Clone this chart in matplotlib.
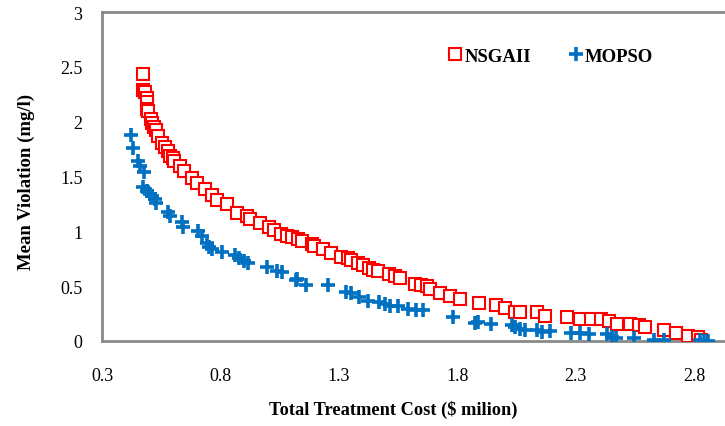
import matplotlib
matplotlib.use("Agg")
import matplotlib.pyplot as plt

# NSGAII front (cost in $ million, mean violation mg/l)
nsga_x = [0.474, 0.474, 0.481, 0.488, 0.492, 0.492, 0.496, 0.507, 0.512, 0.521,
          0.530, 0.538, 0.552, 0.566, 0.580, 0.587, 0.601, 0.606, 0.630, 0.648,
          0.679, 0.700, 0.733, 0.764, 0.785, 0.828, 0.870, 0.912, 0.923, 0.969,
          1.005, 1.026, 1.054, 1.082, 1.103, 1.129, 1.146, 1.186, 1.196, 1.231,
          1.266, 1.309, 1.337, 1.351, 1.379, 1.401, 1.426, 1.443, 1.464, 1.511,
          1.539, 1.559, 1.620, 1.648, 1.670, 1.684, 1.726, 1.769, 1.811, 1.893,
          1.964, 2.002, 2.045, 2.066, 2.137, 2.172, 2.264, 2.317, 2.363, 2.408,
          2.440, 2.476, 2.530, 2.568, 2.592, 2.671, 2.724, 2.773, 2.816, 2.830]
nsga_y = [2.434, 2.29, 2.27, 2.22, 2.18, 2.12, 2.10, 2.02, 1.99, 1.95,
          1.92, 1.87, 1.81, 1.77, 1.73, 1.69, 1.67, 1.64, 1.60, 1.55,
          1.49, 1.44, 1.39, 1.33, 1.29, 1.25, 1.17, 1.14, 1.11, 1.08,
          1.04, 1.01, 0.98, 0.96, 0.95, 0.93, 0.914, 0.884, 0.869, 0.839,
          0.802, 0.763, 0.754, 0.741, 0.711, 0.693, 0.663, 0.650, 0.641, 0.611,
          0.595, 0.572, 0.520, 0.510, 0.499, 0.474, 0.438, 0.413, 0.383, 0.346,
          0.328, 0.298, 0.267, 0.267, 0.261, 0.231, 0.216, 0.201, 0.201, 0.201,
          0.185, 0.155, 0.155, 0.146, 0.125, 0.103, 0.073, 0.043, 0.034, 0.012]

# MOPSO front
mopso_x = [0.422, 0.432, 0.450, 0.460, 0.478, 0.474, 0.488, 0.502, 0.512, 0.524,
           0.530, 0.580, 0.587, 0.637, 0.640, 0.705, 0.722, 0.743, 0.750, 0.764,
           0.806, 0.863, 0.877, 0.898, 0.917, 0.997, 1.040, 1.058, 1.120, 1.125,
           1.163, 1.256, 1.330, 1.351, 1.387, 1.422, 1.471, 1.493, 1.514, 1.549,
           1.592, 1.627, 1.653, 1.780, 1.875, 1.889, 1.941, 2.030, 2.044, 2.066,
           2.087, 2.137, 2.158, 2.190, 2.278, 2.317, 2.356, 2.431, 2.451, 2.469,
           2.544, 2.629, 2.671, 2.823, 2.841, 2.858]
mopso_y = [1.878, 1.757, 1.644, 1.593, 1.543, 1.401, 1.370, 1.340, 1.319, 1.294,
           1.258, 1.173, 1.142, 1.082, 1.036, 1.006, 0.954, 0.893, 0.854, 0.839,
           0.808, 0.784, 0.754, 0.732, 0.711, 0.672, 0.641, 0.626, 0.559, 0.565,
           0.510, 0.510, 0.444, 0.438, 0.398, 0.367, 0.358, 0.337, 0.316, 0.316,
           0.292, 0.285, 0.285, 0.216, 0.164, 0.170, 0.155, 0.146, 0.125, 0.109,
           0.103, 0.103, 0.085, 0.094, 0.073, 0.073, 0.064, 0.064, 0.034, 0.025,
           0.025, 0.012, 0.012, 0.012, 0.0, 0.003]

x_ticks = [0.3, 0.8, 1.3, 1.8, 2.3, 2.8]
y_ticks = [0, 0.5, 1, 1.5, 2, 2.5, 3]

plt.rcParams['font.family'] = ['Liberation Serif', 'DejaVu Serif']

fig = plt.figure(figsize=(7.25, 4.27), dpi=100)
ax = fig.add_axes([102 / 725, 85 / 427, 1 - 102 / 725, 329 / 427])

ax.plot(nsga_x, nsga_y, linestyle='none', marker='s', markersize=8,
        markerfacecolor='white', markeredgecolor='#FF0000', markeredgewidth=1.5,
        label='NSGAII', zorder=3)
ax.plot(mopso_x, mopso_y, linestyle='none', marker='+', markersize=9.5,
        markeredgewidth=2.6, color='#0070C0', label='MOPSO', zorder=4)

ax.set_xlim(0.3, 2.93)
ax.set_ylim(0, 3)
ax.set_xticks(x_ticks)
ax.set_xticklabels([str(v) for v in x_ticks])
ax.set_yticks(y_ticks)
ax.set_yticklabels(['0', '0.5', '1', '1.5', '2', '2.5', '3'])
ax.tick_params(axis='both', length=0, labelsize=13)
ax.tick_params(axis='x', pad=19)
ax.tick_params(axis='y', pad=14)

for side in ['left', 'top', 'bottom']:
    ax.spines[side].set_color('#898989')
    ax.spines[side].set_linewidth(2)
ax.spines['right'].set_visible(False)

ax.set_xlabel('Total Treatment Cost ($ milion)', fontsize=13.2, fontweight='bold')
ax.set_ylabel('Mean Violation (mg/l)', fontsize=13.5, fontweight='bold')
ax.xaxis.set_label_coords((393 - 102) / 623, (342 - 401) / 329)
ax.yaxis.set_label_coords((35 - 102) / 623, (342 - 182) / 329)

leg = ax.legend(loc='center', bbox_to_anchor=(551 / 725, 1 - 57 / 427),
                bbox_transform=fig.transFigure, ncol=2, frameon=False,
                handlelength=0.7, handletextpad=0.15, columnspacing=2.0,
                prop={'weight': 'bold', 'size': 13.5})

fig.savefig('out.png', dpi=100)
